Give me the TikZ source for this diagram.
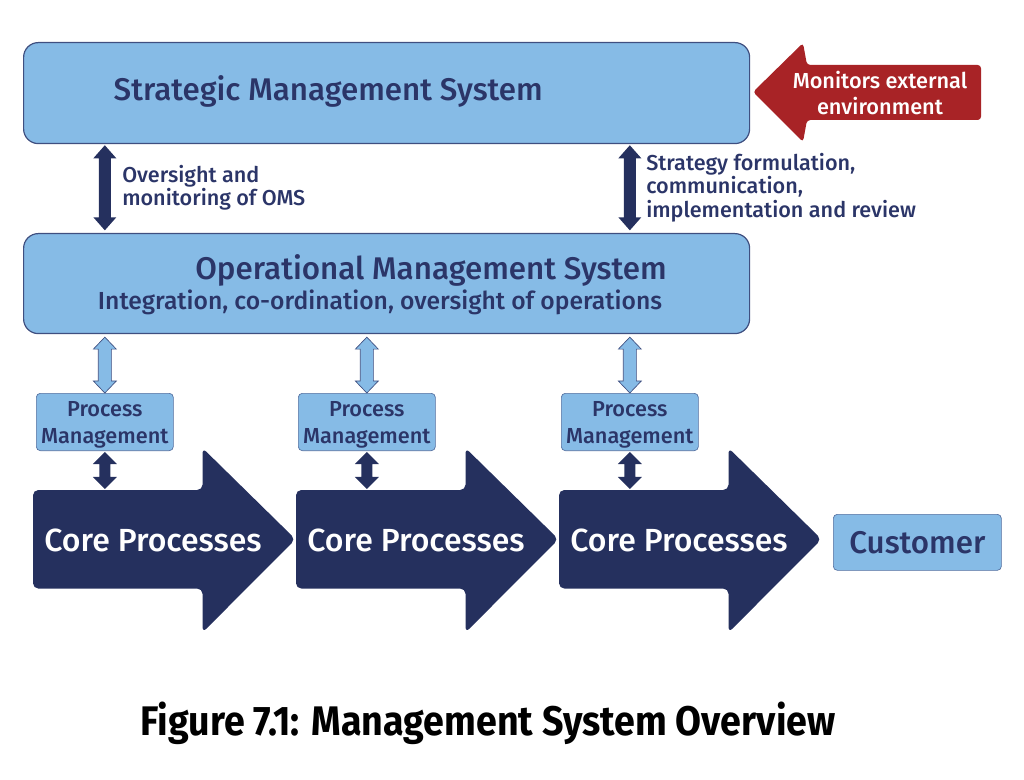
\documentclass[tikz,border=0pt]{standalone}
\usepackage{fontspec}
\setmainfont{Fira Sans}[UprightFont=* Medium, BoldFont=* Bold]
\usetikzlibrary{calc}
\definecolor{lb}{HTML}{86BBE6}
\definecolor{nv}{HTML}{25305E}
\definecolor{tx}{HTML}{2B3568}
\definecolor{rd}{HTML}{A82326}
\definecolor{bd}{HTML}{3F4F80}
% double arrow polygon between two anchors: #1 style, #2 top, #3 bottom, #4 head half, #5 shaft half, #6 head length
\newcommand\DblArr[6]{%
  \path[#1] (#2) -- ([xshift=-#4,yshift=-#6]#2) -- ([xshift=-#5,yshift=-#6]#2)
    -- ([xshift=-#5,yshift=#6]#3) -- ([xshift=-#4,yshift=#6]#3) -- (#3)
    -- ([xshift=#4,yshift=#6]#3) -- ([xshift=#5,yshift=#6]#3)
    -- ([xshift=#5,yshift=-#6]#2) -- ([xshift=#4,yshift=-#6]#2) -- cycle;}
\begin{document}
\begin{tikzpicture}[x=0.75pt,y=-0.75pt,
  bigbox/.style={draw=bd, line width=0.9pt, fill=lb, rounded corners=11pt, inner sep=0pt, anchor=north west},
  pmbox/.style={draw=bd!70!lb, line width=0.5pt, fill=lb, rounded corners=3pt, inner sep=0pt, anchor=north west,
     minimum width=102.75pt, minimum height=43pt},
  pmtxt/.style={text=tx, font=\fontsize{16.3}{20}\selectfont, align=center, inner sep=0pt},
  darkarr/.style={fill=nv},
  lightarr/.style={fill=lb, draw=bd, line width=0.5pt},
  bigtxt/.style={text=tx, font=\fontsize{23.5}{28}\selectfont},
  coretxt/.style={text=white, font=\fontsize{24}{28}\selectfont},
  lbl/.style={text=tx, font=\fontsize{16.2}{17.5}\selectfont, align=left, anchor=north west, inner sep=0pt},
  corearr/.style={fill=nv, rounded corners=4pt},
  body/.style={inner sep=0pt, minimum width=126.75pt, minimum height=73.5pt, anchor=north west}
]
\useasboundingbox (0,0) rectangle (1024,780);

% Strategic
\node[bigbox, minimum width=544.5pt, minimum height=75.75pt] (sms) at (23,42) {};
\node[bigtxt, anchor=west] (smst) at (109,91) {Strategic Management System};

% red arrow
\path[fill=rd, rounded corners=2.5pt] (753,92) -- (803,43) -- (807,65) -- (981,65) -- (981,120) -- (807,120) -- (803,142) -- cycle;
\node[text=white, align=center, font=\fontsize{16.3}{19.5}\selectfont] (mon) at (880,93) {Monitors external\\environment};

% Operational
\node[bigbox, minimum width=544.5pt, minimum height=75pt] (oms) at (23,233) {};
\node[bigtxt] (omst) at (431,270) {Operational Management System};
\node[text=tx, font=\fontsize{18.5}{22}\selectfont] (omss) at (380,302) {Integration, co-ordination, oversight of operations};

% Process management
\node[pmbox] (pm1) at (36,393) {};
\node[pmbox] (pm2) at (298,393) {};
\node[pmbox] (pm3) at (561,393) {};
\foreach \i in {1,2,3}{
  \node[pmtxt] (pmt\i) at ([yshift=-2.2pt]pm\i.center) {Process\\Management};
}

% core arrows
\node[body] (cb1) at (33,490) {};
\node[body] (cb2) at (296,490) {};
\node[body] (cb3) at (559,490) {};
\foreach \i in {1,2,3}{
  \path[corearr] (cb\i.north west) -- (cb\i.north east) -- ([yshift=31.5pt]cb\i.north east)
     -- ($(cb\i.east)+(93,0)$) -- ([yshift=-33pt]cb\i.south east) -- (cb\i.south east) -- (cb\i.south west) -- cycle;
}
\node[coretxt] (ct1) at (153,540) {Core Processes};
\node[coretxt] (ct2) at (416,540) {Core Processes};
\node[coretxt] (ct3) at (679,540) {Core Processes};

% customer
\node[draw=bd!70!lb, line width=0.5pt, fill=lb, rounded corners=3pt, minimum width=126pt, minimum height=42pt,
      bigtxt, anchor=north west, inner sep=0pt] (cust) at (833,514) {Customer};

% big dark arrows
\coordinate (a1t) at ([yshift=-0.8pt]sms.south -| pm1.north);
\coordinate (a1b) at ([yshift=2pt]oms.north -| pm1.north);
\coordinate (a2t) at ([yshift=-0.8pt]sms.south -| pm3.north);
\coordinate (a2b) at ([yshift=2pt]oms.north -| pm3.north);
\DblArr{darkarr}{a1t}{a1b}{8.6pt}{4.5pt}{9.75pt}
\DblArr{darkarr}{a2t}{a2b}{8.6pt}{4.5pt}{9.75pt}
\node[lbl] (l1) at (122,165) {Oversight and\\monitoring of OMS};
\node[lbl] (l2) at (646,153) {Strategy formulation,\\communication,\\implementation and review};

% light arrows and small dark arrows
\foreach \i in {1,2,3}{
  \coordinate (lt\i) at ([yshift=-2.2pt]oms.south -| pm\i.north);
  \DblArr{lightarr}{lt\i}{pm\i.north}{8.6pt}{4.9pt}{9pt}
  \coordinate (st\i) at ([yshift=-0.8pt]pm\i.south);
  \coordinate (sb\i) at ([yshift=0.8pt]cb\i.north -| pm\i.south);
  \DblArr{darkarr}{st\i}{sb\i}{9pt}{4.1pt}{9pt}
}

% caption
\node[font=\bfseries\fontsize{31}{34}\selectfont, text=black] (cap) at (488,723) {\scalebox{0.91}[1]{Figure 7.1: Management System Overview}};
\end{tikzpicture}
\end{document}
